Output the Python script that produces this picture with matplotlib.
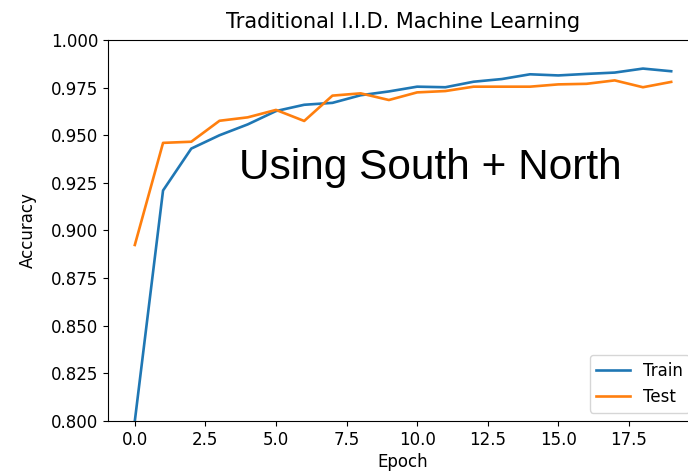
import numpy as np
import matplotlib.pyplot as plt

# accuracy per epoch
epochs = np.arange(20)
train_acc = [0.800, 0.921, 0.943, 0.950, 0.9557, 0.9627, 0.966, 0.967, 0.971, 0.973,
             0.9755, 0.9752, 0.9781, 0.9795, 0.982, 0.9814, 0.9822, 0.9829, 0.985, 0.9836]
test_acc = [0.8924, 0.946, 0.9466, 0.9576, 0.9594, 0.9633, 0.9575, 0.9708, 0.972, 0.9685,
            0.9725, 0.9732, 0.9755, 0.9755, 0.9755, 0.9767, 0.977, 0.9788, 0.9752, 0.978]

plt.rcParams['font.size'] = 12

fig = plt.figure(figsize=(6.88, 4.73), dpi=100)
ax = fig.add_axes([108 / 688, 52 / 473, 590 / 688, 381 / 473])

ax.plot(epochs, train_acc, label='Train', linewidth=1.9)
ax.plot(epochs, test_acc, label='Test', linewidth=1.9)
ax.set_ylim(0.8, 1.0)
ax.set_yticks(np.arange(0.8, 1.0001, 0.025))
ax.set_title('Traditional I.I.D. Machine Learning', fontsize=15, pad=9)
ax.set_xlabel('Epoch', labelpad=3)
ax.set_ylabel('Accuracy', labelpad=10)
ax.legend(loc='lower right')

ax.text(0.546, 0.664, 'Using South + North', transform=ax.transAxes,
        fontsize=30.5, family='Liberation Sans', ha='center', va='center')

fig.savefig('out.png', dpi=100)
